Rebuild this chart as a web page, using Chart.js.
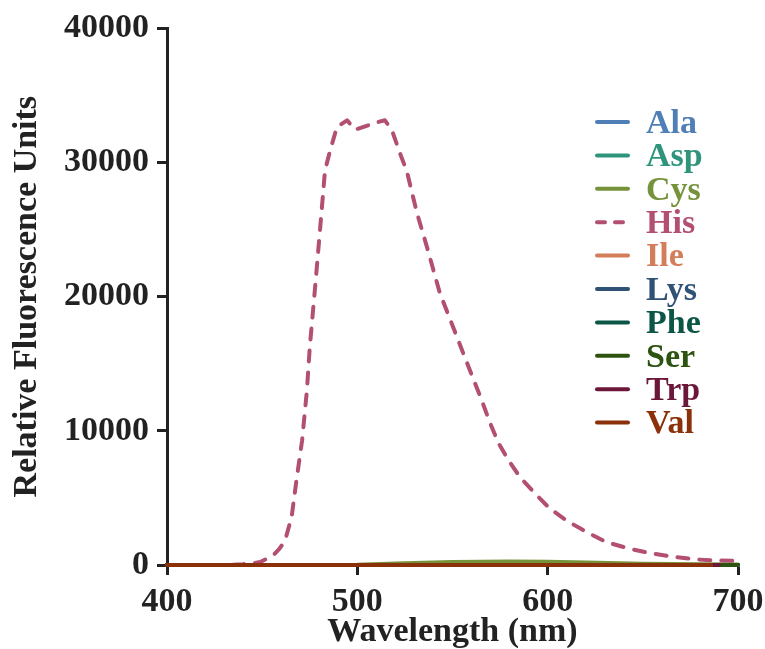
<!DOCTYPE html>
<html>
<head>
<meta charset="utf-8">
<script src="https://cdn.jsdelivr.net/npm/chart.js@4.4.1/dist/chart.umd.min.js"></script>
<style>
  html, body { margin: 0; padding: 0; background: #fff; }
  #wrap { width: 765px; height: 649px; position: relative; }
</style>
</head>
<body>
<div id="wrap"><canvas id="chart"></canvas></div>
<script>
// Amino acid labels and colours (legend order)
const aminoAcids = ['Ala', 'Asp', 'Cys', 'His', 'Ile', 'Lys', 'Phe', 'Ser', 'Trp', 'Val'];
const seriesColors = ['#4f7fb6', '#2e957c', '#76933c', '#b24f72', '#d47d5a',
                      '#2f5275', '#0b5646', '#2d5310', '#6b1739', '#8a3109'];

// His emission spectrum
const hisWavelength = [400, 430, 440, 445, 449, 453, 456, 459, 462, 465.5, 468, 471, 473.5, 475,
  478, 481, 483, 485.7, 489.3, 494.6, 498.8, 510.3, 514.5, 518.2, 522.4, 526.1, 531.4, 536.6,
  543.4, 550, 556, 560, 565.3, 569.7, 574.1, 579.4, 585.5, 594.2, 601.2, 610, 620.5, 631,
  643.3, 655.5, 667.8, 678.3, 688.8, 700];
const hisValues = [0, 0, 60, 130, 220, 500, 750, 1200, 1800, 3600, 6300, 9300, 13000, 16200,
  21000, 26000, 29400, 30900, 32650, 33150, 32450, 33000, 33150, 32400, 30700, 29300, 26200, 23700,
  20250, 17850, 15650, 14200, 12300, 10600, 9100, 7800, 6550, 5200, 4200, 3300, 2450, 1700,
  1200, 840, 580, 410, 340, 300];

// Cys has a small bump, the rest stay at the baseline
const cysWavelength = [400, 480, 500, 520, 550, 580, 600, 620, 650, 680, 700];
const cysValues = [0, 0, 20, 110, 220, 260, 240, 180, 100, 50, 30];

const flatWavelength = [400, 500, 600, 700];
const flatValues = [0, 0, 0, 0];
const valWavelength = [400, 500, 600, 686];
const trpWavelength = [400, 500, 600, 690];
const pheWavelength = [400, 500, 600, 694];

const xTicks = [400, 500, 600, 700];
const yTicks = [0, 10000, 20000, 30000, 40000];

const ink = '#222222';
const fontFamily = '"Liberation Serif", "Times New Roman", serif';

function toPoints(xs, ys) {
  return xs.map((x, i) => ({ x: x, y: ys[i] }));
}

function seriesData(name) {
  switch (name) {
    case 'His': return toPoints(hisWavelength, hisValues);
    case 'Cys': return toPoints(cysWavelength, cysValues);
    case 'Val': return toPoints(valWavelength, flatValues);
    case 'Trp': return toPoints(trpWavelength, flatValues);
    case 'Phe': return toPoints(pheWavelength, flatValues);
    default: return toPoints(flatWavelength, flatValues);
  }
}

const datasets = aminoAcids.map((name, i) => ({
  label: name,
  data: seriesData(name),
  borderColor: seriesColors[i],
  backgroundColor: seriesColors[i],
  borderWidth: 4,
  borderDash: name === 'His' ? [11, 11] : [],
  borderCapStyle: 'round',
  borderJoinStyle: 'round',
  pointRadius: 0,
  tension: 0,
  clip: false,
  // last series drawn on top
  order: aminoAcids.length - i
}));

// Legend drawn inside the plot with coloured text
const insideLegend = {
  id: 'insideLegend',
  afterDraw(chart) {
    const ctx = chart.ctx;
    ctx.save();
    ctx.font = 'bold 34px ' + fontFamily;
    ctx.textBaseline = 'middle';
    chart.data.datasets.forEach((ds, i) => {
      const y = 122 + i * 33.4;
      ctx.strokeStyle = ds.borderColor;
      ctx.lineWidth = 4;
      ctx.lineCap = 'round';
      ctx.setLineDash(ds.borderDash && ds.borderDash.length ? [8, 10] : []);
      ctx.beginPath();
      ctx.moveTo(597, y);
      ctx.lineTo(628, y);
      ctx.stroke();
      ctx.setLineDash([]);
      ctx.fillStyle = ds.borderColor;
      ctx.fillText(ds.label, 646, y + 2);
    });
    ctx.restore();
  }
};

new Chart(document.getElementById('chart'), {
  type: 'line',
  data: { datasets: datasets },
  options: {
    responsive: true,
    maintainAspectRatio: false,
    animation: false,
    layout: { padding: { top: 28, right: 27, left: 0, bottom: 0 } },
    plugins: {
      legend: { display: false },
      tooltip: { enabled: false }
    },
    scales: {
      x: {
        type: 'linear',
        min: 400,
        max: 700,
        afterBuildTicks: (scale) => { scale.ticks = xTicks.map(v => ({ value: v })); },
        afterFit: (scale) => {
          scale.height = 84;
          scale.paddingLeft = 0;
          scale.paddingRight = 0;
        },
        border: { display: true, color: ink, width: 3 },
        grid: { display: true, drawOnChartArea: false, drawTicks: true, tickLength: 10, tickWidth: 3, tickColor: ink },
        ticks: {
          color: ink,
          padding: 7,
          maxRotation: 0,
          callback: (v) => String(v),
          font: { family: fontFamily, size: 34, weight: 'bold' }
        },
        title: {
          display: true,
          text: 'Wavelength (nm)',
          color: ink,
          padding: 0,
          font: { family: fontFamily, size: 34, weight: 'bold', lineHeight: 1 }
        }
      },
      y: {
        type: 'linear',
        min: 0,
        max: 40000,
        afterBuildTicks: (scale) => { scale.ticks = yTicks.map(v => ({ value: v })); },
        afterFit: (scale) => { scale.width = 167; },
        border: { display: true, color: ink, width: 3 },
        grid: { display: true, drawOnChartArea: false, drawTicks: true, tickLength: 10, tickWidth: 3, tickColor: ink },
        ticks: {
          color: ink,
          padding: 8,
          callback: (v) => String(v),
          font: { family: fontFamily, size: 34, weight: 'bold' }
        },
        title: {
          display: true,
          text: 'Relative Fluorescence Units',
          color: ink,
          padding: { top: 10, bottom: 0 },
          font: { family: fontFamily, size: 34, weight: 'bold', lineHeight: 1 }
        }
      }
    }
  },
  plugins: [insideLegend]
});
</script>
</body>
</html>
